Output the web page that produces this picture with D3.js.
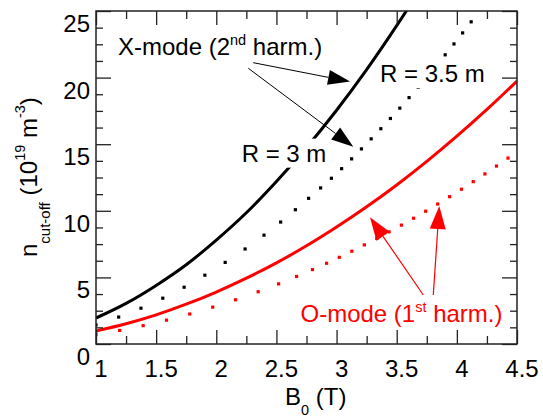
<!DOCTYPE html>
<html>
<head>
<meta charset="utf-8">
<script src="https://cdn.jsdelivr.net/npm/d3@7"></script>
<style>
  html, body { margin: 0; padding: 0; background: #fff; }
  svg { display: block; }
  text { font-family: "Liberation Sans", Arial, Helvetica, sans-serif; white-space: pre; }
</style>
</head>
<body>
<svg id="chart" width="543" height="419"></svg>
<script>
// Magnetic field on axis (T)
const bField = [1, 1.25, 1.5, 1.75, 2, 2.25, 2.5, 2.75, 3, 3.25, 3.5, 3.75, 4, 4.25, 4.5];

// Cut-off densities (10^19 m^-3)
const xModeR35 = [1.95, 3.05, 4.4, 5.95, 7.8, 9.85, 12.2, 14.75, 17.55, 20.6, 23.9, 27.4, null, null, null];
const xModeR3  = [1.43, 2.23, 3.2, 4.35, 5.7, 7.2, 8.9, 10.8, 12.8, 15.05, 17.45, 20.05, 22.8, 25.75, null];
const oModeR35 = [0.98, 1.52, 2.19, 2.99, 3.9, 4.94, 6.09, 7.37, 8.78, 10.3, 11.94, 13.71, 15.6, 17.61, 19.74];
const oModeR3  = [0.71, 1.11, 1.6, 2.18, 2.85, 3.6, 4.45, 5.39, 6.41, 7.53, 8.73, 10.02, 11.4, 12.87, 14.43];

// Axis ticks
const xMajorTicks = [1, 1.5, 2, 2.5, 3, 3.5, 4, 4.5];
const xTickLabels = ["1", "1.5", "2", "2.5", "3", "3.5", "4", "4.5"];
const xMinorTicks = [1.25, 1.75, 2.25, 2.75, 3.25, 3.75, 4.25];
const yMajorTicks = [0, 5, 10, 15, 20, 25];
const yTickLabels = ["0", "5", "10", "15", "20", "25"];
const yMinorTicks = [1.25, 2.5, 3.75, 6.25, 7.5, 8.75, 11.25, 12.5, 13.75, 16.25, 17.5, 18.75, 21.25, 22.5, 23.75];

const svg = d3.select("#chart");
const plotLeft = 96, plotRight = 517, plotTop = 11, plotBottom = 344;

const x = d3.scaleLinear().domain([1, 4.5]).range([plotLeft, plotRight]);
const y = d3.scaleLinear().domain([0, 25]).range([plotBottom, plotTop]);

svg.append("defs").append("clipPath").attr("id", "plotArea")
  .append("rect").attr("x", plotLeft).attr("y", plotTop)
  .attr("width", plotRight - plotLeft).attr("height", plotBottom - plotTop);

// Curves: solid lines are stroked, dotted ones are drawn as dots along the curve
const series = [
  { values: xModeR35, color: "#000", dotted: false },
  { values: xModeR3,  color: "#000", dotted: true },
  { values: oModeR35, color: "#ff0000", dotted: false },
  { values: oModeR3,  color: "#ff0000", dotted: true }
];

const line = d3.line()
  .defined(d => d[1] != null)
  .x(d => x(d[0]))
  .y(d => y(d[1]))
  .curve(d3.curveCatmullRom);

// dot pitch along the curve gets tighter toward high field
const dotPitch = d3.scaleLinear().domain([2.2, 2.9]).range([24, 14]).clamp(true);

const curves = svg.append("g").attr("clip-path", "url(#plotArea)");
series.forEach(s => {
  const path = curves.append("path")
    .datum(bField.map((b, i) => [b, s.values[i]]))
    .attr("d", line)
    .attr("fill", "none")
    .attr("stroke", s.color)
    .attr("stroke-width", 3);
  if (s.dotted) {
    const node = path.node();
    const total = node.getTotalLength();
    const dots = [];
    for (let L = 0; L <= total; ) {
      const p = node.getPointAtLength(L);
      if (p.y < plotTop) break;
      dots.push(p);
      L += dotPitch(x.invert(p.x));
    }
    path.remove();
    curves.append("g").selectAll("rect").data(dots).join("rect")
      .attr("x", d => d.x - 1.6).attr("y", d => d.y - 1.6)
      .attr("width", 3.2).attr("height", 3.2)
      .attr("fill", s.color);
  }
});

// Ticks on all four sides, pointing inward
function tickGroup(axis, transform) {
  const g = svg.append("g").attr("transform", transform).call(axis);
  g.select(".domain").remove();
  g.selectAll(".tick line").attr("stroke", "#222").attr("stroke-width", 1.3);
  g.selectAll("text").remove();
}
tickGroup(d3.axisBottom(x).tickValues(xMajorTicks).tickSize(-14), `translate(0,${plotBottom})`);
tickGroup(d3.axisBottom(x).tickValues(xMinorTicks).tickSize(-8), `translate(0,${plotBottom})`);
tickGroup(d3.axisTop(x).tickValues(xMajorTicks).tickSize(-14), `translate(0,${plotTop})`);
tickGroup(d3.axisTop(x).tickValues(xMinorTicks).tickSize(-8), `translate(0,${plotTop})`);
tickGroup(d3.axisLeft(y).tickValues(yMajorTicks).tickSize(-15), `translate(${plotLeft},0)`);
tickGroup(d3.axisLeft(y).tickValues(yMinorTicks).tickSize(-7), `translate(${plotLeft},0)`);
tickGroup(d3.axisRight(y).tickValues(yMajorTicks).tickSize(-15), `translate(${plotRight},0)`);
tickGroup(d3.axisRight(y).tickValues(yMinorTicks).tickSize(-7), `translate(${plotRight},0)`);

// Frame
svg.append("rect")
  .attr("x", plotLeft).attr("y", plotTop)
  .attr("width", plotRight - plotLeft).attr("height", plotBottom - plotTop)
  .attr("fill", "none").attr("stroke", "#222").attr("stroke-width", 1.5);

// Tick labels
svg.append("g").selectAll("text").data(xMajorTicks).join("text")
  .attr("x", d => x(d) + 5).attr("y", plotBottom + 33)
  .attr("text-anchor", "middle").attr("font-size", 24)
  .text((d, i) => xTickLabels[i]);

svg.append("g").selectAll("text").data(yMajorTicks).join("text")
  .attr("x", plotLeft - 6).attr("y", d => y(d) + 21)
  .attr("text-anchor", "end").attr("font-size", 24)
  .text((d, i) => yTickLabels[i]);

// Axis titles
const xTitle = svg.append("text").attr("x", 285).attr("y", 405).attr("font-size", 24);
xTitle.append("tspan").text("B");
xTitle.append("tspan").attr("font-size", 14.5).attr("dy", 10).text("0");
xTitle.append("tspan").attr("dy", -10).text(" (T)");

const yTitle = svg.append("text").attr("transform", "translate(37,257) rotate(-90)").attr("font-size", 24);
yTitle.append("tspan").text("n");
yTitle.append("tspan").attr("font-size", 15).attr("dy", 13).text("cut-off");
yTitle.append("tspan").attr("dy", -13).text(" (10");
yTitle.append("tspan").attr("font-size", 14.5).attr("dy", -12).text("19");
yTitle.append("tspan").attr("dy", 12).text(" m");
yTitle.append("tspan").attr("font-size", 14.5).attr("dy", -12).text("-3");
yTitle.append("tspan").attr("dy", 12).text(")");

// Annotations (labels sitting on a curve get a white backing)
function label(b, n, parts, color, backing) {
  const g = svg.append("g");
  const t = g.append("text").attr("x", x(b)).attr("y", y(n))
    .attr("font-size", 24).attr("fill", color);
  parts.forEach(p => {
    const ts = t.append("tspan").text(p.text);
    if (p.sup) ts.attr("font-size", 14.5).attr("dy", -10);
    else if (p.after) ts.attr("dy", 10);
  });
  if (backing) {
    const bb = t.node().getBBox();
    g.insert("rect", "text")
      .attr("x", bb.x - 3).attr("y", bb.y - 1)
      .attr("width", bb.width + 6).attr("height", bb.height + 2)
      .attr("fill", "#fff");
  }
}
label(1.183, 21.7, [{ text: "X-mode (2" }, { text: "nd", sup: true }, { text: " harm.)", after: true }], "#000", false);
label(3.361, 19.67, [{ text: "R = 3.5 m" }], "#000", true);
label(2.211, 13.69, [{ text: "R = 3 m" }], "#000", true);
label(2.70, 1.67, [{ text: "O-mode (1" }, { text: "st", sup: true }, { text: " harm.)", after: true }], "#ff0000", false);

// Arrows: [start B, start n, tip B, tip n]
const blackArrows = [[2.307, 21.12, 3.112, 19.7], [2.266, 20.7, 3.139, 14.81]];
const redArrows = [[3.721, 3.68, 3.278, 9.51], [3.804, 3.68, 3.854, 10.36]];

function arrow(a, color, width, headLen, headHalf) {
  const x0 = x(a[0]), y0 = y(a[1]), x1 = x(a[2]), y1 = y(a[3]);
  const dx = x1 - x0, dy = y1 - y0, len = Math.hypot(dx, dy);
  const ux = dx / len, uy = dy / len;
  const bx = x1 - ux * headLen, by = y1 - uy * headLen;
  svg.append("line").attr("x1", x0).attr("y1", y0).attr("x2", bx).attr("y2", by)
    .attr("stroke", color).attr("stroke-width", width);
  svg.append("path")
    .attr("d", `M${x1},${y1}L${bx - uy * headHalf},${by + ux * headHalf}L${bx + uy * headHalf},${by - ux * headHalf}Z`)
    .attr("fill", color);
}
blackArrows.forEach(a => arrow(a, "#000", 1, 22, 7.5));
redArrows.forEach(a => arrow(a, "#ff0000", 1.2, 23, 8));
</script>
</body>
</html>
